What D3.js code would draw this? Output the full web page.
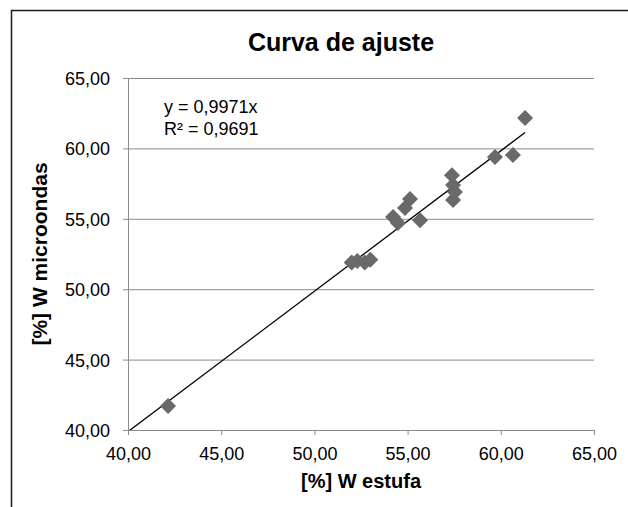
<!DOCTYPE html>
<html>
<head>
<meta charset="utf-8">
<script src="https://cdn.jsdelivr.net/npm/d3@7"></script>
<style>
  body { margin: 0; background: #fff; }
  text { font-family: "Liberation Sans", Arial, sans-serif; }
</style>
</head>
<body>
<div id="graph"></div>
<script>
// W estufa (x) vs W microondas (y)
let estufa =     [42.15, 52.0, 52.3, 52.7, 53.0, 54.22, 54.48, 54.86, 55.13, 55.67, 57.38, 57.44, 57.54, 57.44, 59.69, 60.65, 61.3];
let microondas = [41.7, 51.9, 52.0, 51.9, 52.1, 55.13, 54.7, 55.77, 56.4, 54.9, 58.1, 57.4, 56.9, 56.33, 59.39, 59.53, 62.16];
let slope = 0.9971;
let ticks = [40, 45, 50, 55, 60, 65];

let svgWidth = 628, svgHeight = 507;
let margin = { top: 78, right: 34, bottom: 77, left: 128 };
let width = svgWidth - margin.left - margin.right;
let height = svgHeight - margin.top - margin.bottom;

let fmt = d => d.toFixed(2).replace(".", ",");

let svg = d3.select("#graph")
  .append("svg")
  .attr("width", svgWidth)
  .attr("height", svgHeight);

// outer chart frame (only left and top edges visible)
svg.append("path")
  .attr("d", `M11.5,${svgHeight} L11.5,10.5 L${svgWidth},10.5`)
  .attr("fill", "none")
  .attr("stroke", "#1a1a1a")
  .attr("stroke-width", 1.5);

let chartGroup = svg.append("g")
  .attr("transform", `translate(${margin.left},${margin.top})`);

let xScale = d3.scaleLinear().domain([40, 65]).range([0, width]);
let yScale = d3.scaleLinear().domain([40, 65]).range([height, 0]);

// horizontal gridlines
chartGroup.append("g")
  .selectAll("line")
  .data(ticks.slice(1))
  .enter().append("line")
  .attr("x1", 0).attr("x2", width)
  .attr("y1", d => yScale(d) + 0.5).attr("y2", d => yScale(d) + 0.5)
  .attr("stroke", "#8c8c8c")
  .attr("stroke-width", 1);

let xAxis = d3.axisBottom(xScale).tickValues(ticks).tickFormat(fmt).tickSize(5).tickSizeOuter(0).tickPadding(12);
let yAxis = d3.axisLeft(yScale).tickValues(ticks).tickFormat(fmt).tickSize(5).tickSizeOuter(0).tickPadding(13);

let gx = chartGroup.append("g")
  .attr("transform", `translate(0, ${height})`)
  .call(xAxis);
let gy = chartGroup.append("g")
  .call(yAxis);

[gx, gy].forEach(g => {
  g.select(".domain").attr("stroke", "#8c8c8c");
  g.selectAll(".tick line").attr("stroke", "#8c8c8c");
  g.selectAll(".tick text")
    .style("font-size", "18px")
    .style("fill", "#000");
});
gy.selectAll(".tick text").attr("dy", "0.36em");

// trendline
let clip = svg.append("clipPath").attr("id", "plotclip")
  .append("rect").attr("width", width).attr("height", height);

let xmax = d3.max(estufa);
chartGroup.append("line")
  .attr("clip-path", "url(#plotclip)")
  .attr("x1", xScale(40)).attr("y1", yScale(40 * slope))
  .attr("x2", xScale(xmax)).attr("y2", yScale(xmax * slope))
  .attr("stroke", "#000")
  .attr("stroke-width", 1.3);

// points
let data = estufa.map((x, i) => ({ x: x, y: microondas[i] }));
chartGroup.selectAll("path.pt")
  .data(data)
  .enter()
  .append("path")
  .attr("class", "pt")
  .attr("d", "M0,-8L8,0L0,8L-8,0Z")
  .attr("transform", d => `translate(${xScale(d.x)},${yScale(d.y)})`)
  .style("fill", "#696969");

// equation labels
chartGroup.append("text")
  .attr("x", 36).attr("y", 35)
  .style("font-size", "18px")
  .text("y = 0,9971x");
chartGroup.append("text")
  .attr("x", 36).attr("y", 57)
  .style("font-size", "18px")
  .text("R² = 0,9691");

// title
svg.append("text")
  .attr("x", 341).attr("y", 51)
  .style("text-anchor", "middle")
  .style("font-size", "25px")
  .style("font-weight", "bold")
  .text("Curva de ajuste");

// axis titles
svg.append("text")
  .attr("x", margin.left + width / 2).attr("y", 488)
  .style("text-anchor", "middle")
  .style("font-size", "20px")
  .style("font-weight", "bold")
  .text("[%] W estufa");

svg.append("text")
  .attr("transform", `translate(47, ${margin.top + height / 2}) rotate(-90)`)
  .style("text-anchor", "middle")
  .style("font-size", "21px")
  .style("font-weight", "bold")
  .text("[%] W microondas");
</script>
</body>
</html>
